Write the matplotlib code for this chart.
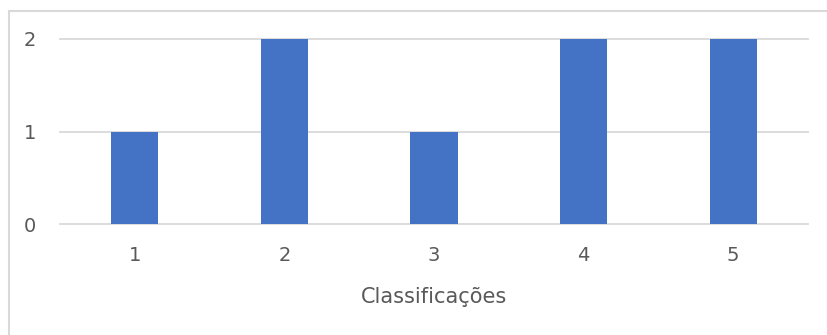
import matplotlib.pyplot as plt
from matplotlib.patches import Rectangle

# chart data
categories = ['1', '2', '3', '4', '5']
counts = [1, 2, 1, 2, 2]
y_ticks = [0, 1, 2]

plt.rcParams['font.family'] = ['DejaVu Sans']

fig = plt.figure(figsize=(8.27, 3.35), dpi=100)
ax = fig.add_axes([60 / 827, 111 / 335, 748 / 827, 185 / 335])

x = list(range(len(categories)))
ax.bar(x, counts, width=0.315, color='#4472C4', zorder=3)

ax.set_xlim(-0.5, len(categories) - 0.5)
ax.set_ylim(0, 2)
ax.set_yticks(y_ticks)
ax.set_xticks(x)
ax.set_xticklabels(categories)
ax.yaxis.grid(True, color='#d9d9d9', linewidth=1.3, zorder=0)
for gl in ax.get_ygridlines():
    gl.set_clip_on(False)
ax.tick_params(length=0, labelsize=14, labelcolor='#595959')
ax.tick_params(axis='x', pad=16)
ax.tick_params(axis='y', pad=17)
for s in ax.spines.values():
    s.set_visible(False)
ax.set_xlabel('Classificações', fontsize=15, color='#595959', labelpad=16)

# outer chart border (Excel style)
fig.patches.append(Rectangle((8.5 / 827, -0.1), 1.1, (335 - 10.5) / 335 + 0.1,
                             transform=fig.transFigure, fill=False,
                             edgecolor='#d9d9d9', linewidth=1.5))

fig.savefig('out.png', dpi=100)
